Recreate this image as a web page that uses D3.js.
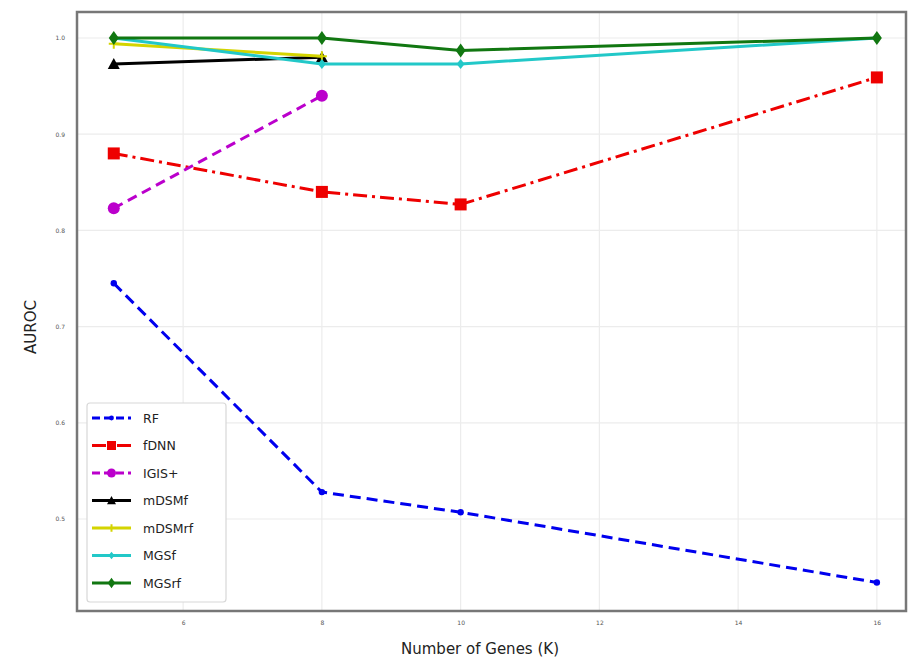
<!DOCTYPE html>
<html>
<head>
<meta charset="utf-8">
<script src="https://cdn.jsdelivr.net/npm/d3@7"></script>
<style>
  body { margin: 0; background: #fff; }
  svg { display: block; }
</style>
</head>
<body>
<svg id="chart" width="909" height="661"></svg>
<script>
// ---- data ----
const genesK = [5, 8, 10, 16];
const RF     = [0.745, 0.528, 0.507, 0.434];
const fDNN   = [0.880, 0.840, 0.827, 0.959];
const IGISp  = [0.823, 0.940];
const mDSMf  = [0.973, 0.980];
const mDSMrf = [0.994, 0.981];
const MGSf   = [1.000, 0.973, 0.973, 1.000];
const MGSrf  = [1.000, 1.000, 0.987, 1.000];
const xTicks = [6, 8, 10, 12, 14, 16];
const yTicks = [0.5, 0.6, 0.7, 0.8, 0.9, 1.0];

const seriesList = [
  { name: "RF",     values: RF,     color: "#0000ee", dash: "11,6",        marker: "dot" },
  { name: "fDNN",   values: fDNN,   color: "#ee0000", dash: "14,5,3,5",    marker: "square" },
  { name: "IGIS+",  values: IGISp,  color: "#bb00cc", dash: "10,6",        marker: "circle" },
  { name: "mDSMf",  values: mDSMf,  color: "#000000", dash: null,          marker: "triangle" },
  { name: "mDSMrf", values: mDSMrf, color: "#d4d400", dash: null,          marker: "plus" },
  { name: "MGSf",   values: MGSf,   color: "#22c8c8", dash: null,          marker: "smalldiamond" },
  { name: "MGSrf",  values: MGSrf,  color: "#117711", dash: null,          marker: "diamond" }
];

const svg = d3.select("#chart");
const L = 77, R = 906, T = 12, B = 611;
const x = d3.scaleLinear().domain([4.47, 16.42]).range([L, R]);
const y = d3.scaleLinear().domain([0.4044, 1.027]).range([B, T]);

// grid
svg.append("g").selectAll("line.vg").data(xTicks).join("line")
  .attr("x1", d => x(d)).attr("x2", d => x(d)).attr("y1", T).attr("y2", B)
  .attr("stroke", "#ececec").attr("stroke-width", 1.2);
svg.append("g").selectAll("line.hg").data(yTicks).join("line")
  .attr("y1", d => y(d)).attr("y2", d => y(d)).attr("x1", L).attr("x2", R)
  .attr("stroke", "#ececec").attr("stroke-width", 1.2);

// axes (labels only)
const xAxis = d3.axisBottom(x).tickValues(xTicks).tickSize(0).tickPadding(10).tickFormat(d3.format("d"));
const gx = svg.append("g").attr("transform", `translate(0,${B})`).call(xAxis);
gx.select(".domain").remove();
gx.selectAll("text").attr("font-family", "DejaVu Sans").attr("font-size", 6).attr("fill", "#555");

const yAxis = d3.axisLeft(y).tickValues(yTicks).tickSize(0).tickPadding(12).tickFormat(d3.format(".1f"));
const gy = svg.append("g").attr("transform", `translate(${L},0)`).call(yAxis);
gy.select(".domain").remove();
gy.selectAll("text").attr("font-family", "DejaVu Sans").attr("font-size", 6).attr("fill", "#555");

// clip
svg.append("clipPath").attr("id", "clip").append("rect")
  .attr("x", L).attr("y", T).attr("width", R - L).attr("height", B - T);

const plot = svg.append("g").attr("clip-path", "url(#clip)");
const line = d3.line().x((d, i) => x(genesK[i])).y(d => y(d));

function drawMarker(g, type, cx, cy, color, k) {
  k = k || 1;
  if (type === "dot") {
    g.append("circle").attr("cx", cx).attr("cy", cy).attr("r", 3.2 * k).attr("fill", color);
  } else if (type === "square") {
    g.append("rect").attr("x", cx - 6 * k).attr("y", cy - 6 * k).attr("width", 12 * k).attr("height", 12 * k).attr("fill", color);
  } else if (type === "circle") {
    g.append("circle").attr("cx", cx).attr("cy", cy).attr("r", 6 * k).attr("fill", color);
  } else if (type === "triangle") {
    g.append("path").attr("d", `M${cx},${cy - 6 * k}L${cx + 6 * k},${cy + 5 * k}L${cx - 6 * k},${cy + 5 * k}Z`).attr("fill", color);
  } else if (type === "plus") {
    g.append("path").attr("d", `M${cx - 5 * k},${cy}H${cx + 5 * k}M${cx},${cy - 5 * k}V${cy + 5 * k}`).attr("stroke", color).attr("stroke-width", 2);
  } else if (type === "smalldiamond") {
    g.append("path").attr("d", `M${cx},${cy - 5 * k}L${cx + 4 * k},${cy}L${cx},${cy + 5 * k}L${cx - 4 * k},${cy}Z`).attr("fill", color);
  } else if (type === "diamond") {
    g.append("path").attr("d", `M${cx},${cy - 7 * k}L${cx + 5 * k},${cy}L${cx},${cy + 7 * k}L${cx - 5 * k},${cy}Z`).attr("fill", color);
  }
}

seriesList.forEach(s => {
  plot.append("path").datum(s.values)
    .attr("d", line).attr("fill", "none")
    .attr("stroke", s.color).attr("stroke-width", 3)
    .attr("stroke-dasharray", s.dash);
  const mg = plot.append("g");
  s.values.forEach((v, i) => drawMarker(mg, s.marker, x(genesK[i]), y(v), s.color, 1));
});

// frame
svg.append("rect").attr("x", L).attr("y", T).attr("width", R - L).attr("height", B - T)
  .attr("fill", "none").attr("stroke", "#777").attr("stroke-width", 2.5);

// legend
const lg = svg.append("g");
lg.append("rect").attr("x", 87).attr("y", 403).attr("width", 139).attr("height", 199)
  .attr("rx", 3).attr("fill", "#fff").attr("stroke", "#d8d8d8").attr("stroke-width", 1.2);
seriesList.forEach((s, i) => {
  const ly = 418 + i * 27.5;
  lg.append("line").attr("x1", 92).attr("x2", 131).attr("y1", ly).attr("y2", ly)
    .attr("stroke", s.color).attr("stroke-width", 3).attr("stroke-dasharray", s.dash ? (s.name === "fDNN" ? "14,4,3,4" : "8,4") : null);
  drawMarker(lg, s.marker, 111.5, ly, s.color, 0.75);
  lg.append("text").attr("x", 143).attr("y", ly + 4.5).text(s.name)
    .attr("font-family", "DejaVu Sans").attr("font-size", 12.5).attr("fill", "#222");
});

// axis titles
svg.append("text").attr("x", 480).attr("y", 654).attr("text-anchor", "middle")
  .attr("font-family", "DejaVu Sans").attr("font-size", 15).attr("fill", "#222")
  .text("Number of Genes (K)");
svg.append("text").attr("transform", "translate(36,327) rotate(-90)").attr("text-anchor", "middle")
  .attr("font-family", "DejaVu Sans").attr("font-size", 15).attr("fill", "#222")
  .text("AUROC");
</script>
</body>
</html>
